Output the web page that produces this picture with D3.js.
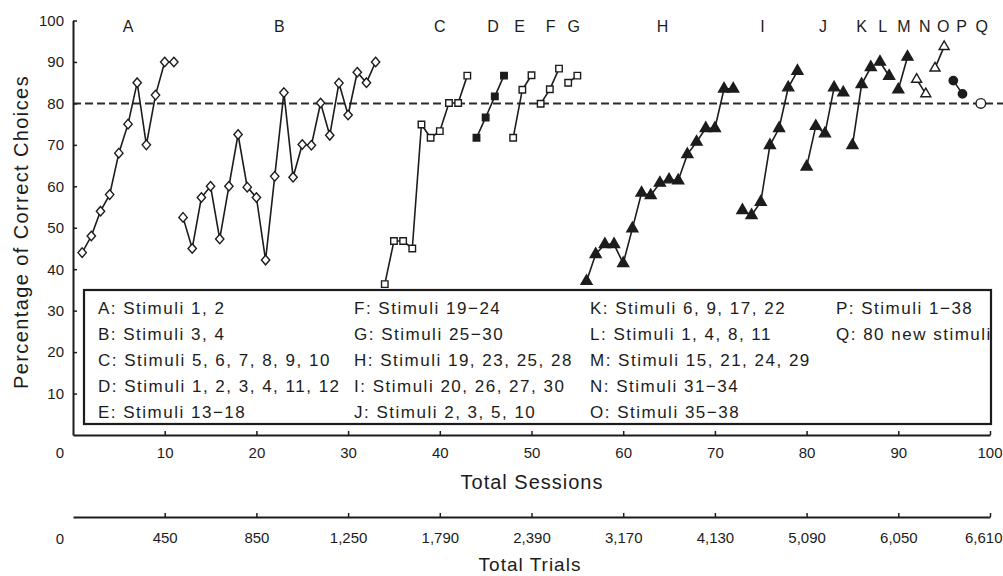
<!DOCTYPE html>
<html><head><meta charset="utf-8">
<script src="https://cdn.jsdelivr.net/npm/d3@7"></script>
<style>
html,body{margin:0;padding:0;background:#fff;}
svg{display:block;font-family:"Liberation Sans",Arial,Helvetica,sans-serif;}
</style></head><body>
<svg id="chart" width="1003" height="576"></svg>
<script>
// ---------------- DATA ----------------
const seriesNames = ["A","B","C","D","E","F","G","H","I","J","K","L","M","N","O","P","Q"];
const startSessions = [1,12,34,44,48,51,54,56,73,80,85,88,90,92,94,96,99];
const valuesA = [44, 48, 54, 58, 68, 75, 85, 70, 82, 90, 90];
const valuesB = [52.5, 45, 57.3, 60, 47.3, 60, 72.5, 59.8, 57.3, 42.2, 62.4, 82.6, 62.2, 70.1, 69.9, 80.1, 72.3, 84.9, 77.2, 87.5, 85, 90];
const valuesC = [36.4, 46.8, 46.8, 45, 74.9, 71.7, 73.3, 80.1, 80.1, 86.7];
const valuesD = [71.7, 76.6, 81.7, 86.7];
const valuesE = [71.7, 83.3, 86.8];
const valuesF = [79.9, 83.4, 88.4];
const valuesG = [85, 86.7];
const valuesH = [37.1, 43.6, 46, 46, 41.4, 49.8, 58.4, 57.8, 60.8, 61.6, 61.4, 67.7, 70.7, 74, 74, 83.5, 83.5];
const valuesI = [54.2, 53, 56.2, 69.9, 74, 83.8, 87.8];
const valuesJ = [64.7, 74.5, 72.7, 83.8, 82.6];
const valuesK = [69.9, 84.6, 88.7];
const valuesL = [90, 86.6];
const valuesM = [83.3, 91.2];
const valuesN = [85.8, 82.3];
const valuesO = [88.5, 93.7];
const valuesP = [85.5, 82.3];
const valuesQ = [80];
const allValues = [valuesA,valuesB,valuesC,valuesD,valuesE,valuesF,valuesG,valuesH,valuesI,valuesJ,valuesK,valuesL,valuesM,valuesN,valuesO,valuesP,valuesQ];
const markerTypes = ["diamondOpen","diamondOpen","squareOpen","squareFilled","squareOpen","squareOpen","squareOpen",
  "triFilled","triFilled","triFilled","triFilled","triFilled","triFilled","triOpen","triOpen","circleFilled","circleOpen"];
const criterion = 80;

const yTicks = [10,20,30,40,50,60,70,80,90,100];
const sessionTicks = [10,20,30,40,50,60,70,80,90,100];
const trialTickLabels = ["450","850","1,250","1,790","2,390","3,170","4,130","5,090","6,050","6,610"];

const legendCol1 = ["A: Stimuli 1, 2","B: Stimuli 3, 4","C: Stimuli 5, 6, 7, 8, 9, 10","D: Stimuli 1, 2, 3, 4, 11, 12","E: Stimuli 13\u221218"];
const legendCol2 = ["F: Stimuli 19\u221224","G: Stimuli 25\u221230","H: Stimuli 19, 23, 25, 28","I: Stimuli 20, 26, 27, 30","J: Stimuli 2, 3, 5, 10"];
const legendCol3 = ["K: Stimuli 6, 9, 17, 22","L: Stimuli 1, 4, 8, 11","M: Stimuli 15, 21, 24, 29","N: Stimuli 31\u221234","O: Stimuli 35\u221238"];
const legendCol4 = ["P: Stimuli 1\u221238","Q: 80 new stimuli"];

// ---------------- LAYOUT ----------------
const labelAt = [6,22.5,40,45.8,48.7,52.1,54.6,64.3,75.2,81.8,86,88.3,90.6,92.9,94.9,96.9,99.1]; // session position of top letters
const ink = "#1c1c1c";

const svg = d3.select("#chart");
svg.append("rect").attr("width",1003).attr("height",576).attr("fill","#fff");

const x = d3.scaleLinear().domain([0,100]).range([73,990]);
const y = d3.scaleLinear().domain([0,100]).range([435,20.5]);

// criterion dashed line
svg.append("line").attr("x1",x(0)).attr("x2",1003).attr("y1",y(criterion)).attr("y2",y(criterion))
  .attr("stroke","#2a2a2a").attr("stroke-width",2).attr("stroke-dasharray","8,4");

// legend box
svg.append("rect").attr("x",84).attr("y",290).attr("width",907).attr("height",134)
  .attr("fill","none").attr("stroke",ink).attr("stroke-width",2.2);
const legendCols = [legendCol1,legendCol2,legendCol3,legendCol4];
const colX = [98,354,590,836];
legendCols.forEach((col,ci)=>{
  col.forEach((t,ri)=>{
    svg.append("text").attr("x",colX[ci]).attr("y",314+ri*26)
      .attr("font-size",17).attr("letter-spacing","1.5px").attr("fill",ink).text(t);
  });
});

// custom symbols
const symDiamond = {draw(c,s){const w=s*0.44,h=s*0.5;c.moveTo(0,-h);c.lineTo(w,0);c.lineTo(0,h);c.lineTo(-w,0);c.closePath();}};
const symSquare = {draw(c,s){c.rect(-s/2,-s/2,s,s);}};
const symTri = {draw(c,s){const h=s*0.87;c.moveTo(0,-2*h/3);c.lineTo(s/2,h/3);c.lineTo(-s/2,h/3);c.closePath();}};
const symCircle = {draw(c,s){c.moveTo(s,0);c.arc(0,0,s,0,2*Math.PI);}};
const markerDefs = {
  diamondOpen:{type:symDiamond,size:9.5,fill:"#fff"},
  squareOpen:{type:symSquare,size:6.5,fill:"#fff"},
  squareFilled:{type:symSquare,size:6.5,fill:ink},
  triFilled:{type:symTri,size:11,fill:ink},
  triOpen:{type:symTri,size:10,fill:"#fff"},
  circleFilled:{type:symCircle,size:4.2,fill:ink},
  circleOpen:{type:symCircle,size:4.8,fill:"#fff"}
};

const line = d3.line().x(d=>x(d.s)).y(d=>y(d.v));
allValues.forEach((vals,i)=>{
  const data = vals.map((v,j)=>({s:startSessions[i]+j, v}));
  const g = svg.append("g");
  g.append("path").datum(data).attr("d",line).attr("fill","none").attr("stroke",ink).attr("stroke-width",1.6);
  const m = markerDefs[markerTypes[i]];
  const sym = d3.symbol(m.type, m.size);
  g.selectAll("path.mk").data(data).join("path").attr("class","mk")
    .attr("d",sym).attr("transform",d=>`translate(${x(d.s)},${y(d.v)})`)
    .attr("fill",m.fill).attr("stroke",ink).attr("stroke-width",1.4);
  svg.append("text").attr("x",x(labelAt[i])).attr("y",32).attr("text-anchor","middle")
    .attr("font-size",16).attr("fill",ink).text(seriesNames[i]);
});

function styleAxis(g){
  g.select(".domain").attr("stroke",ink).attr("stroke-width",2);
  g.selectAll(".tick line").attr("stroke",ink).attr("stroke-width",1.5);
  g.selectAll(".tick text").attr("fill",ink).attr("font-size",15)
    .attr("font-family",'"Liberation Sans",Arial,sans-serif');
}

// y axis
const gy = svg.append("g").attr("transform",`translate(${x(0)},0)`)
  .call(d3.axisLeft(y).tickValues(yTicks).tickSize(-4).tickSizeOuter(0).tickPadding(9));
styleAxis(gy);

// x axis (sessions)
const gx = svg.append("g").attr("transform",`translate(0,${y(0)})`)
  .call(d3.axisBottom(x).tickValues(sessionTicks).tickSize(-4).tickSizeOuter(0).tickPadding(12));
styleAxis(gx);
gx.selectAll(".tick text").filter(d=>d===100).attr("text-anchor","end").attr("x",12);

// trials axis
const gt = svg.append("g").attr("transform",`translate(0,517)`)
  .call(d3.axisBottom(x).tickValues(sessionTicks).tickFormat((d,i)=>trialTickLabels[i]).tickSize(-4).tickSizeOuter(0).tickPadding(15.5));
styleAxis(gt);
gt.selectAll(".tick text").filter(d=>d===100).attr("text-anchor","end").attr("x",12);

// corner zeros
[457.5,543.5].forEach(yy=>{
  svg.append("text").attr("x",60).attr("y",yy).attr("text-anchor","middle").attr("font-size",15).attr("fill",ink).text("0");
});

// titles
svg.append("text").attr("x",532).attr("y",489).attr("text-anchor","middle").attr("font-size",20)
  .attr("letter-spacing","1px").attr("fill",ink).text("Total Sessions");
svg.append("text").attr("x",530).attr("y",571).attr("text-anchor","middle").attr("font-size",19)
  .attr("letter-spacing","1px").attr("fill",ink).text("Total Trials");
svg.append("text").attr("transform","translate(28,232) rotate(-90)").attr("text-anchor","middle")
  .attr("font-size",20).attr("letter-spacing","1.4px").attr("fill",ink).text("Percentage of Correct Choices");
</script>
</body></html>
